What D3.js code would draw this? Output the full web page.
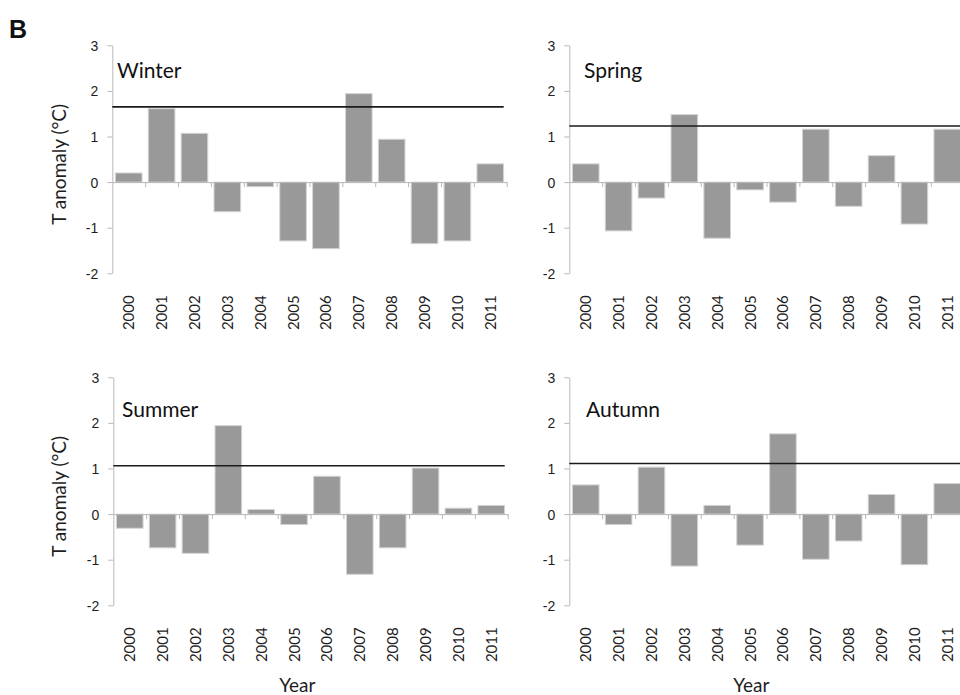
<!DOCTYPE html>
<meta charset="utf-8">
<style>
  body { margin: 0; background: #fff; }
  svg { display: block; font-family: Lato, "Open Sans", sans-serif; }
  .axis path, .axis line { stroke: #b8b8b8; }
  .axis text { fill: #1e1e1e; font-size: 14px; }
  .bar { fill: #999999; stroke: #d4d4d4; stroke-width: 1; }
  .ref { stroke: #1a1a1a; stroke-width: 1.6; }
</style>
<svg width="960" height="695"></svg>
<script src="https://cdn.jsdelivr.net/npm/d3@7"></script>
<script>

var years = ["2000","2001","2002","2003","2004","2005","2006","2007","2008","2009","2010","2011"];
var winter = [0.20, 1.61, 1.07, -0.65, -0.10, -1.29, -1.46, 1.94, 0.94, -1.35, -1.29, 0.40];
var spring = [0.40, -1.07, -0.35, 1.48, -1.23, -0.17, -0.44, 1.16, -0.53, 0.58, -0.92, 1.16];
var summer = [-0.31, -0.74, -0.86, 1.94, 0.10, -0.23, 0.83, -1.32, -0.74, 1.01, 0.13, 0.19];
var autumn = [0.64, -0.23, 1.03, -1.14, 0.19, -0.68, 1.76, -0.99, -0.59, 0.43, -1.11, 0.67];
var seasonNames = ["Winter", "Spring", "Summer", "Autumn"];
var thresholds = [1.65, 1.23, 1.06, 1.11];
var yTicks = [-2, -1, 0, 1, 2, 3];

var svg = d3.select("svg");

// panel placement: left edge of plot (y axis), top (value 3)
var panels = [
  {vals: winter, x0: 112.3, y0: 45.3, lx: 117, ly: 78, title: true},
  {vals: spring, x0: 569.3, y0: 45.3, lx: 584, ly: 78},
  {vals: summer, x0: 113.3, y0: 377.3, lx: 122, ly: 417, title: true, xlab: true},
  {vals: autumn, x0: 569.3, y0: 377.3, lx: 586, ly: 417, xlab: true}
];
var pw = 394.4, ph = 228;

panels.forEach(function(p, i) {
  var g = svg.append("g").attr("transform", "translate(" + p.x0 + "," + p.y0 + ")");

  var x = d3.scaleBand().domain(years).range([0, pw]).paddingInner(0.19).paddingOuter(0.095);
  var xi = d3.scaleLinear().domain([0, years.length]).range([0, pw]);
  var y = d3.scaleLinear().domain([-2, 3]).range([ph, 0]);

  g.selectAll("rect").data(p.vals).enter().append("rect")
      .attr("class", "bar")
      .attr("x", function(d, j) { return x(years[j]); })
      .attr("width", x.bandwidth())
      .attr("y", function(d) { return y(Math.max(0, d)); })
      .attr("height", function(d) { return Math.abs(y(d) - y(0)); });

  // y axis
  g.append("g").attr("class", "axis")
      .call(d3.axisLeft(y).tickValues(yTicks).tickSize(5).tickPadding(9).tickSizeOuter(0)
        .tickFormat(function(d) { return d < 0 ? "-" + (-d) : "" + d; }))
      .selectAll("text").attr("dy", "0.35em");

  // x axis at zero with ticks between categories
  g.append("g").attr("class", "axis")
      .attr("transform", "translate(0," + y(0) + ")")
      .call(d3.axisBottom(xi).tickValues(d3.range(1, years.length + 1)).tickSize(5).tickSizeOuter(0).tickFormat(""));

  // year labels below plot
  g.selectAll(".yr").data(years).enter().append("text")
      .attr("class", "yr")
      .attr("transform", function(d) {
        return "translate(" + (x(d) + x.bandwidth() / 2 + 5.5) + "," + (ph + 22) + ") rotate(-90)";
      })
      .attr("text-anchor", "end")
      .attr("fill", "#1e1e1e")
      .style("font-size", "15px")
      .text(function(d) { return d; });

  g.append("line").attr("class", "ref")
      .attr("x1", 0).attr("x2", pw - 3)
      .attr("y1", y(thresholds[i])).attr("y2", y(thresholds[i]));

  svg.append("text")
      .attr("x", p.lx).attr("y", p.ly)
      .attr("fill", "#111")
      .style("font-size", "21px")
      .text(seasonNames[i]);

  if (p.title) {
    svg.append("text")
        .attr("transform", "translate(66," + (p.y0 + ph / 2 + 5) + ") rotate(-90)")
        .attr("text-anchor", "middle")
        .attr("fill", "#1e1e1e")
        .style("font-size", "19px")
        .text("T anomaly (°C)");
  }
  if (p.xlab) {
    svg.append("text")
        .attr("x", p.x0 + (i == 2 ? 184 : 182)).attr("y", 692)
        .attr("text-anchor", "middle")
        .attr("fill", "#1e1e1e")
        .style("font-size", "19px")
        .text("Year");
  }
});

svg.append("text")
    .attr("x", 9).attr("y", 38)
    .style("font-family", "'Liberation Sans', Arial, sans-serif")
    .style("font-weight", "bold")
    .style("font-size", "25px")
    .attr("fill", "#111")
    .text("B");

</script>
